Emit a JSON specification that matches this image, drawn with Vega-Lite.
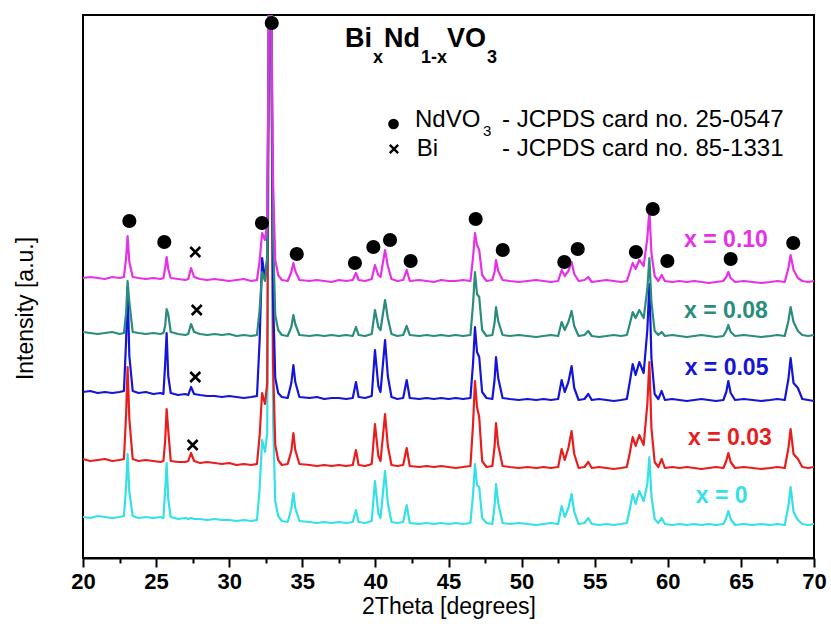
{
  "$schema": "https://vega.github.io/schema/vega-lite/v6.json",
  "width": 731,
  "height": 543,
  "autosize": {"type": "none"},
  "padding": {"left": 83, "top": 15, "right": 17, "bottom": 72},
  "background": "white",
  "config": {
    "font": "Liberation Sans",
    "view": {"stroke": "black", "strokeWidth": 2},
    "text": {"font": "Liberation Sans"}
  },
  "datasets": {
    "xrd": [
      {"t":20.0,"s0":41,"s3":99,"s5":166,"s8":226,"s10":280},
      {"t":20.5,"s0":40,"s3":97,"s5":167,"s8":225,"s10":281},
      {"t":21.0,"s0":42,"s3":98,"s5":165,"s8":224,"s10":280},
      {"t":21.5,"s0":41,"s3":99,"s5":166,"s8":225,"s10":279},
      {"t":22.0,"s0":40,"s3":97,"s5":165,"s8":226,"s10":281},
      {"t":22.5,"s0":41,"s3":98,"s5":166,"s8":224,"s10":280},
      {"t":22.8,"s0":42,"s3":99,"s5":167,"s8":225,"s10":281},
      {"t":22.95,"s0":72,"s3":144,"s5":218,"s8":245,"s10":300},
      {"t":23.05,"s0":104,"s3":191,"s5":271,"s8":277,"s10":322},
      {"t":23.17,"s0":66,"s3":139,"s5":202,"s8":256,"s10":296},
      {"t":23.4,"s0":42,"s3":99,"s5":167,"s8":226,"s10":281},
      {"t":23.8,"s0":40,"s3":97,"s5":165,"s8":225,"s10":280},
      {"t":24.3,"s0":41,"s3":98,"s5":166,"s8":224,"s10":279},
      {"t":24.8,"s0":40,"s3":97,"s5":164,"s8":225,"s10":280},
      {"t":25.3,"s0":41,"s3":96,"s5":165,"s8":224,"s10":279},
      {"t":25.5,"s0":40,"s3":97,"s5":164,"s8":225,"s10":280},
      {"t":25.62,"s0":67,"s3":117,"s5":194,"s8":232,"s10":290},
      {"t":25.72,"s0":95,"s3":149,"s5":225,"s8":249,"s10":301},
      {"t":25.83,"s0":59,"s3":128,"s5":182,"s8":244,"s10":289},
      {"t":26.0,"s0":41,"s3":97,"s5":165,"s8":226,"s10":280},
      {"t":26.5,"s0":39,"s3":96,"s5":163,"s8":224,"s10":279},
      {"t":27.0,"s0":40,"s3":96,"s5":164,"s8":223,"s10":278},
      {"t":27.2,"s0":39,"s3":97,"s5":163,"s8":224,"s10":279},
      {"t":27.39,"s0":40,"s3":105,"s5":171,"s8":234,"s10":290},
      {"t":27.6,"s0":39,"s3":97,"s5":164,"s8":226,"s10":281},
      {"t":28.0,"s0":39,"s3":95,"s5":163,"s8":224,"s10":279},
      {"t":28.5,"s0":38,"s3":96,"s5":162,"s8":223,"s10":278},
      {"t":29.0,"s0":39,"s3":95,"s5":162,"s8":224,"s10":279},
      {"t":29.5,"s0":38,"s3":94,"s5":161,"s8":223,"s10":278},
      {"t":30.0,"s0":38,"s3":95,"s5":162,"s8":224,"s10":277},
      {"t":30.5,"s0":37,"s3":93,"s5":161,"s8":222,"s10":278},
      {"t":31.0,"s0":38,"s3":94,"s5":160,"s8":223,"s10":279},
      {"t":31.5,"s0":37,"s3":93,"s5":161,"s8":222,"s10":277},
      {"t":31.9,"s0":38,"s3":94,"s5":162,"s8":223,"s10":278},
      {"t":32.08,"s0":69,"s3":122,"s5":217,"s8":248,"s10":297},
      {"t":32.25,"s0":118,"s3":165,"s5":300,"s8":286,"s10":325},
      {"t":32.45,"s0":106,"s3":154,"s5":279,"s8":277,"s10":318},
      {"t":32.6,"s0":125,"s3":175,"s5":300,"s8":300,"s10":335},
      {"t":32.72,"s0":560,"s3":560,"s5":560,"s8":560,"s10":560},
      {"t":32.88,"s0":560,"s3":560,"s5":560,"s8":560,"s10":560},
      {"t":33.0,"s0":137,"s3":193,"s5":260,"s8":322,"s10":377},
      {"t":33.15,"s0":57,"s3":113,"s5":180,"s8":243,"s10":298},
      {"t":33.35,"s0":42,"s3":98,"s5":165,"s8":228,"s10":283},
      {"t":33.6,"s0":37,"s3":93,"s5":161,"s8":223,"s10":278},
      {"t":34.0,"s0":36,"s3":94,"s5":160,"s8":222,"s10":277},
      {"t":34.25,"s0":49,"s3":107,"s5":175,"s8":231,"s10":286},
      {"t":34.39,"s0":65,"s3":125,"s5":193,"s8":243,"s10":295},
      {"t":34.52,"s0":50,"s3":108,"s5":176,"s8":234,"s10":287},
      {"t":34.8,"s0":37,"s3":94,"s5":161,"s8":223,"s10":278},
      {"t":35.5,"s0":36,"s3":93,"s5":160,"s8":222,"s10":277},
      {"t":36.0,"s0":35,"s3":92,"s5":161,"s8":223,"s10":278},
      {"t":36.5,"s0":36,"s3":93,"s5":159,"s8":222,"s10":277},
      {"t":37.0,"s0":35,"s3":92,"s5":160,"s8":223,"s10":276},
      {"t":37.5,"s0":36,"s3":93,"s5":160,"s8":222,"s10":278},
      {"t":38.0,"s0":35,"s3":92,"s5":159,"s8":223,"s10":277},
      {"t":38.45,"s0":36,"s3":93,"s5":160,"s8":222,"s10":278},
      {"t":38.67,"s0":48,"s3":108,"s5":176,"s8":231,"s10":285},
      {"t":38.85,"s0":36,"s3":93,"s5":161,"s8":223,"s10":278},
      {"t":39.3,"s0":35,"s3":92,"s5":160,"s8":222,"s10":277},
      {"t":39.75,"s0":37,"s3":94,"s5":162,"s8":224,"s10":279},
      {"t":39.97,"s0":77,"s3":134,"s5":208,"s8":248,"s10":293},
      {"t":40.2,"s0":45,"s3":102,"s5":172,"s8":231,"s10":283},
      {"t":40.35,"s0":40,"s3":97,"s5":166,"s8":228,"s10":281},
      {"t":40.66,"s0":87,"s3":144,"s5":218,"s8":258,"s10":308},
      {"t":40.85,"s0":55,"s3":112,"s5":182,"s8":240,"s10":292},
      {"t":41.1,"s0":36,"s3":93,"s5":161,"s8":224,"s10":279},
      {"t":41.5,"s0":35,"s3":92,"s5":159,"s8":222,"s10":277},
      {"t":41.9,"s0":36,"s3":93,"s5":160,"s8":223,"s10":278},
      {"t":42.14,"s0":53,"s3":110,"s5":178,"s8":232,"s10":288},
      {"t":42.35,"s0":35,"s3":92,"s5":160,"s8":223,"s10":277},
      {"t":43.0,"s0":34,"s3":91,"s5":159,"s8":222,"s10":278},
      {"t":43.5,"s0":35,"s3":92,"s5":160,"s8":223,"s10":277},
      {"t":44.0,"s0":34,"s3":91,"s5":159,"s8":222,"s10":276},
      {"t":44.5,"s0":35,"s3":92,"s5":160,"s8":223,"s10":278},
      {"t":45.0,"s0":34,"s3":91,"s5":159,"s8":222,"s10":277},
      {"t":45.5,"s0":35,"s3":90,"s5":160,"s8":223,"s10":277},
      {"t":46.0,"s0":34,"s3":91,"s5":159,"s8":222,"s10":278},
      {"t":46.5,"s0":35,"s3":92,"s5":160,"s8":223,"s10":277},
      {"t":46.68,"s0":64,"s3":134,"s5":195,"s8":254,"s10":301},
      {"t":46.81,"s0":94,"s3":177,"s5":231,"s8":286,"s10":325},
      {"t":46.95,"s0":73,"s3":151,"s5":206,"s8":264,"s10":313},
      {"t":47.1,"s0":71,"s3":141,"s5":201,"s8":261,"s10":308},
      {"t":47.3,"s0":40,"s3":97,"s5":166,"s8":228,"s10":283},
      {"t":47.6,"s0":35,"s3":91,"s5":160,"s8":222,"s10":277},
      {"t":48.0,"s0":34,"s3":92,"s5":159,"s8":223,"s10":278},
      {"t":48.15,"s0":52,"s3":111,"s5":178,"s8":235,"s10":286},
      {"t":48.25,"s0":74,"s3":135,"s5":201,"s8":251,"s10":298},
      {"t":48.4,"s0":55,"s3":113,"s5":180,"s8":237,"s10":287},
      {"t":48.7,"s0":35,"s3":92,"s5":160,"s8":223,"s10":278},
      {"t":49.2,"s0":34,"s3":91,"s5":159,"s8":222,"s10":277},
      {"t":49.8,"s0":35,"s3":90,"s5":158,"s8":223,"s10":276},
      {"t":50.4,"s0":34,"s3":91,"s5":159,"s8":222,"s10":277},
      {"t":51.0,"s0":33,"s3":90,"s5":158,"s8":221,"s10":278},
      {"t":51.5,"s0":34,"s3":91,"s5":159,"s8":222,"s10":277},
      {"t":52.0,"s0":35,"s3":90,"s5":158,"s8":223,"s10":276},
      {"t":52.5,"s0":34,"s3":91,"s5":159,"s8":222,"s10":277},
      {"t":52.74,"s0":52,"s3":109,"s5":178,"s8":236,"s10":288},
      {"t":52.95,"s0":41,"s3":98,"s5":166,"s8":228,"s10":282},
      {"t":53.2,"s0":50,"s3":110,"s5":176,"s8":236,"s10":287},
      {"t":53.42,"s0":64,"s3":127,"s5":192,"s8":247,"s10":296},
      {"t":53.6,"s0":46,"s3":104,"s5":170,"s8":232,"s10":284},
      {"t":53.9,"s0":34,"s3":90,"s5":158,"s8":222,"s10":277},
      {"t":54.3,"s0":35,"s3":91,"s5":159,"s8":223,"s10":278},
      {"t":54.56,"s0":40,"s3":96,"s5":164,"s8":227,"s10":281},
      {"t":54.8,"s0":34,"s3":90,"s5":158,"s8":222,"s10":276},
      {"t":55.3,"s0":33,"s3":91,"s5":159,"s8":221,"s10":277},
      {"t":55.8,"s0":34,"s3":90,"s5":158,"s8":222,"s10":278},
      {"t":56.3,"s0":33,"s3":89,"s5":157,"s8":223,"s10":277},
      {"t":56.8,"s0":34,"s3":90,"s5":158,"s8":222,"s10":276},
      {"t":57.2,"s0":35,"s3":91,"s5":159,"s8":223,"s10":277},
      {"t":57.4,"s0":49,"s3":105,"s5":176,"s8":234,"s10":286},
      {"t":57.6,"s0":64,"s3":121,"s5":194,"s8":246,"s10":295},
      {"t":57.8,"s0":54,"s3":112,"s5":183,"s8":240,"s10":289},
      {"t":58.05,"s0":67,"s3":123,"s5":196,"s8":248,"s10":298},
      {"t":58.35,"s0":57,"s3":113,"s5":185,"s8":240,"s10":292},
      {"t":58.6,"s0":74,"s3":154,"s5":228,"s8":269,"s10":320},
      {"t":58.74,"s0":101,"s3":196,"s5":274,"s8":300,"s10":348},
      {"t":58.88,"s0":62,"s3":130,"s5":200,"s8":256,"s10":305},
      {"t":59.1,"s0":39,"s3":96,"s5":164,"s8":227,"s10":282},
      {"t":59.35,"s0":35,"s3":91,"s5":159,"s8":223,"s10":277},
      {"t":59.58,"s0":40,"s3":99,"s5":167,"s8":226,"s10":283},
      {"t":59.8,"s0":34,"s3":90,"s5":158,"s8":222,"s10":277},
      {"t":60.3,"s0":33,"s3":91,"s5":159,"s8":223,"s10":276},
      {"t":60.8,"s0":34,"s3":90,"s5":158,"s8":222,"s10":277},
      {"t":61.3,"s0":33,"s3":91,"s5":157,"s8":221,"s10":276},
      {"t":61.8,"s0":34,"s3":90,"s5":158,"s8":222,"s10":277},
      {"t":62.3,"s0":33,"s3":89,"s5":159,"s8":223,"s10":276},
      {"t":62.8,"s0":34,"s3":90,"s5":158,"s8":222,"s10":275},
      {"t":63.3,"s0":33,"s3":91,"s5":157,"s8":221,"s10":276},
      {"t":63.8,"s0":34,"s3":90,"s5":158,"s8":222,"s10":277},
      {"t":64.0,"s0":40,"s3":97,"s5":166,"s8":227,"s10":281},
      {"t":64.14,"s0":47,"s3":105,"s5":177,"s8":233,"s10":286},
      {"t":64.3,"s0":39,"s3":96,"s5":165,"s8":226,"s10":280},
      {"t":64.6,"s0":33,"s3":90,"s5":158,"s8":222,"s10":276},
      {"t":65.2,"s0":34,"s3":91,"s5":159,"s8":223,"s10":277},
      {"t":65.8,"s0":33,"s3":90,"s5":158,"s8":222,"s10":276},
      {"t":66.4,"s0":34,"s3":89,"s5":157,"s8":221,"s10":275},
      {"t":67.0,"s0":33,"s3":90,"s5":158,"s8":222,"s10":276},
      {"t":67.5,"s0":34,"s3":91,"s5":159,"s8":223,"s10":277},
      {"t":68.0,"s0":33,"s3":90,"s5":158,"s8":222,"s10":276},
      {"t":68.25,"s0":52,"s3":110,"s5":179,"s8":237,"s10":290},
      {"t":68.4,"s0":71,"s3":129,"s5":200,"s8":251,"s10":303},
      {"t":68.6,"s0":46,"s3":104,"s5":175,"s8":236,"s10":288},
      {"t":68.9,"s0":38,"s3":99,"s5":170,"s8":227,"s10":280},
      {"t":69.2,"s0":34,"s3":91,"s5":159,"s8":223,"s10":277},
      {"t":69.6,"s0":33,"s3":90,"s5":158,"s8":222,"s10":276},
      {"t":70.0,"s0":34,"s3":91,"s5":157,"s8":223,"s10":277}
    ],
    "dots": [
      {"t":23.17,"v":337},{"t":25.56,"v":316},{"t":32.24,"v":335},{"t":32.91,"v":535},
      {"t":34.62,"v":304},{"t":38.6,"v":295},{"t":39.86,"v":311},{"t":41.0,"v":318},
      {"t":42.41,"v":297},{"t":46.86,"v":339},{"t":48.71,"v":308},{"t":52.92,"v":296},
      {"t":53.84,"v":309},{"t":57.82,"v":306},{"t":58.97,"v":349},{"t":59.97,"v":297},
      {"t":64.3,"v":299},{"t":68.58,"v":315}
    ],
    "crosses": [
      {"t":27.68,"v":306},{"t":27.78,"v":248},{"t":27.68,"v":181},{"t":27.5,"v":113}
    ],
    "labels": [
      {"t":63.98,"v":311,"k":"s10","s":"x = 0.10"},
      {"t":63.98,"v":240,"k":"s8","s":"x = 0.08"},
      {"t":64.02,"v":183,"k":"s5","s":"x = 0.05"},
      {"t":64.25,"v":113,"k":"s3","s":"x = 0.03"},
      {"t":63.69,"v":55,"k":"s0","s":"x = 0"}
    ],
    "titleMain": [
      {"t":37.92,"v":511,"s":"Bi"},
      {"t":40.59,"v":511,"s":"Nd"},
      {"t":44.90,"v":511,"s":"VO"}
    ],
    "titleSub": [
      {"t":39.84,"v":495,"s":"x"},
      {"t":43.12,"v":495,"s":"1-x"},
      {"t":47.63,"v":495,"s":"3"}
    ],
    "legendText": [
      {"t":42.71,"v":431,"s":"NdVO"},
      {"t":48.66,"v":431,"s":"- JCPDS card no. 25-0547"},
      {"t":42.83,"v":402,"s":"Bi"},
      {"t":48.66,"v":402,"s":"- JCPDS card no. 85-1331"}
    ],
    "legendSub": [
      {"t":47.36,"v":422,"s":"3"}
    ],
    "legendDot": [{"t":41.24,"v":434}],
    "legendCross": [{"t":41.27,"v":409}]
  },
  "resolve": {"axis": {"x": "independent"}},
  "layer": [
    {
      "data": {"name": "xrd"},
      "transform": [{"fold": ["s0","s3","s5","s8","s10"], "as": ["k","v"]}],
      "mark": {"type": "line", "strokeWidth": 2.2, "clip": true, "strokeJoin": "round"},
      "encoding": {
        "x": {"field": "t", "type": "quantitative",
              "scale": {"domain": [20,70], "nice": false, "zero": false},
              "axis": {"orient": "bottom", "values": [20,25,30,35,40,45,50,55,60,65,70],
                       "grid": false, "domain": true, "domainColor": "black", "domainWidth": 2,
                       "ticks": true, "tickSize": 9, "tickWidth": 2, "tickColor": "black",
                       "labelFontSize": 22, "labelFontWeight": "bold", "labelColor": "black",
                       "labelPadding": 4, "labelFlush": false, "labelOverlap": false,
                       "title": "2Theta [degrees]", "titleFontSize": 23, "titleFontWeight": "normal",
                       "titleColor": "black", "titlePadding": 3}},
        "y": {"field": "v", "type": "quantitative",
              "scale": {"domain": [0,543], "nice": false, "zero": false},
              "axis": {"labels": false, "ticks": false, "domain": false, "grid": false,
                       "title": "Intensity [a.u.]", "titleFontSize": 23, "titleFontWeight": "normal",
                       "titleColor": "black", "titlePadding": 46, "titleY": 293}},
        "color": {"field": "k", "type": "nominal",
                  "scale": {"domain": ["s0","s3","s5","s8","s10"],
                            "range": ["#35e0e6","#e81e1e","#1515d8","#2a8c7c","#e632e6"]},
                  "legend": null}
      }
    },
    {
      "data": {"name": "dots"},
      "mark": {"type": "point", "shape": "circle", "filled": true, "color": "black", "size": 200, "opacity": 1},
      "encoding": {
        "x": {"field": "t", "type": "quantitative",
              "axis": {"orient": "bottom", "values": [22.5,27.5,32.5,37.5,42.5,47.5,52.5,57.5,62.5,67.5],
                       "labels": false, "domain": false, "grid": false, "ticks": true,
                       "tickSize": 5, "tickWidth": 2, "tickColor": "black", "title": null}},
        "y": {"field": "v", "type": "quantitative"}
      }
    },
    {
      "data": {"name": "crosses"},
      "mark": {"type": "point", "shape": "M-1,-1L1,1M-1,1L1,-1", "filled": false, "color": "black", "strokeWidth": 2.6, "size": 100, "opacity": 1},
      "encoding": {
        "x": {"field": "t", "type": "quantitative", "axis": null},
        "y": {"field": "v", "type": "quantitative"}
      }
    },
    {
      "data": {"name": "labels"},
      "mark": {"type": "text", "fontSize": 23, "fontWeight": "bold", "align": "center", "baseline": "alphabetic"},
      "encoding": {
        "x": {"field": "t", "type": "quantitative", "axis": null},
        "y": {"field": "v", "type": "quantitative"},
        "text": {"field": "s"},
        "color": {"field": "k", "type": "nominal", "legend": null}
      }
    },
    {
      "data": {"name": "titleMain"},
      "mark": {"type": "text", "fontSize": 27, "fontWeight": "bold", "align": "left", "baseline": "alphabetic", "color": "black"},
      "encoding": {
        "x": {"field": "t", "type": "quantitative", "axis": null},
        "y": {"field": "v", "type": "quantitative"},
        "text": {"field": "s"}
      }
    },
    {
      "data": {"name": "titleSub"},
      "mark": {"type": "text", "fontSize": 18, "fontWeight": "bold", "align": "left", "baseline": "alphabetic", "color": "black"},
      "encoding": {
        "x": {"field": "t", "type": "quantitative", "axis": null},
        "y": {"field": "v", "type": "quantitative"},
        "text": {"field": "s"}
      }
    },
    {
      "data": {"name": "legendText"},
      "mark": {"type": "text", "fontSize": 24, "fontWeight": "normal", "align": "left", "baseline": "alphabetic", "color": "black"},
      "encoding": {
        "x": {"field": "t", "type": "quantitative", "axis": null},
        "y": {"field": "v", "type": "quantitative"},
        "text": {"field": "s"}
      }
    },
    {
      "data": {"name": "legendSub"},
      "mark": {"type": "text", "fontSize": 15, "fontWeight": "normal", "align": "left", "baseline": "alphabetic", "color": "black"},
      "encoding": {
        "x": {"field": "t", "type": "quantitative", "axis": null},
        "y": {"field": "v", "type": "quantitative"},
        "text": {"field": "s"}
      }
    },
    {
      "data": {"name": "legendDot"},
      "mark": {"type": "point", "shape": "circle", "filled": true, "color": "black", "size": 115, "opacity": 1},
      "encoding": {
        "x": {"field": "t", "type": "quantitative", "axis": null},
        "y": {"field": "v", "type": "quantitative"}
      }
    },
    {
      "data": {"name": "legendCross"},
      "mark": {"type": "point", "shape": "M-1,-1L1,1M-1,1L1,-1", "filled": false, "color": "black", "strokeWidth": 2.4, "size": 70, "opacity": 1},
      "encoding": {
        "x": {"field": "t", "type": "quantitative", "axis": null},
        "y": {"field": "v", "type": "quantitative"}
      }
    }
  ]
}
